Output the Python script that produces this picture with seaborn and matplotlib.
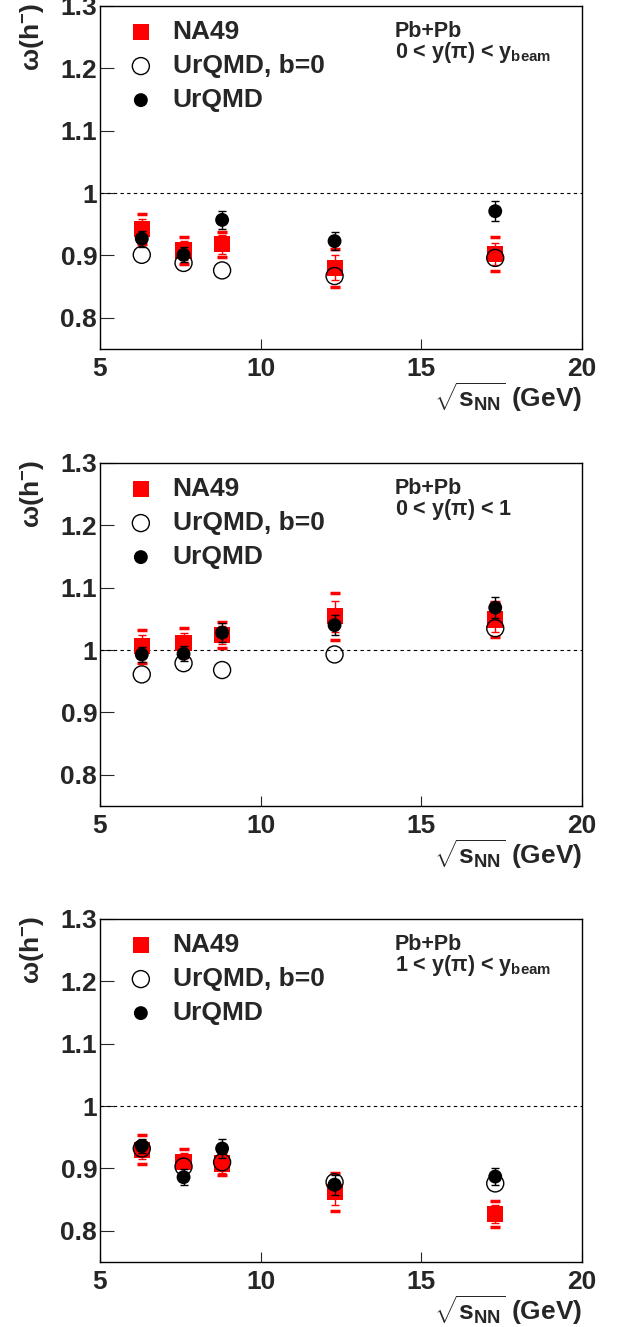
import numpy as np
import pandas as pd
import matplotlib
matplotlib.use("Agg")
import matplotlib.pyplot as plt
import seaborn as sns

# sqrt(s_NN) energies (GeV)
energies = [6.3, 7.6, 8.8, 12.3, 17.3]

# panel labels
rapidity_labels = [r"0 < y($\pi$) < y$_{beam}$", r"0 < y($\pi$) < 1", r"1 < y($\pi$) < y$_{beam}$"]

# NA49 data: value, statistical and systematic errors
na49_full = [0.943, 0.908, 0.918, 0.880, 0.902]
na49_full_stat = [0.015, 0.015, 0.015, 0.020, 0.018]
na49_full_sys = [0.024, 0.022, 0.020, 0.030, 0.027]

na49_mid = [1.006, 1.012, 1.024, 1.054, 1.049]
na49_mid_stat = [0.018, 0.015, 0.015, 0.025, 0.020]
na49_mid_sys = [0.026, 0.023, 0.021, 0.038, 0.028]

na49_fwd = [0.930, 0.910, 0.908, 0.862, 0.827]
na49_fwd_stat = [0.015, 0.015, 0.015, 0.020, 0.015]
na49_fwd_sys = [0.023, 0.021, 0.019, 0.030, 0.021]

# UrQMD
urqmd_full = [0.927, 0.901, 0.957, 0.923, 0.971]
urqmd_full_err = [0.013, 0.012, 0.015, 0.015, 0.016]
urqmd_mid = [0.993, 0.994, 1.028, 1.040, 1.068]
urqmd_mid_err = [0.012, 0.012, 0.015, 0.016, 0.017]
urqmd_fwd = [0.936, 0.886, 0.932, 0.874, 0.887]
urqmd_fwd_err = [0.012, 0.013, 0.015, 0.016, 0.014]

# UrQMD b=0
urqmd_b0_full = [0.901, 0.888, 0.876, 0.867, 0.896]
urqmd_b0_mid = [0.961, 0.979, 0.968, 0.993, 1.035]
urqmd_b0_fwd = [0.932, 0.903, 0.910, 0.878, 0.876]

panels = [
    (na49_full, na49_full_stat, na49_full_sys, urqmd_full, urqmd_full_err, urqmd_b0_full),
    (na49_mid, na49_mid_stat, na49_mid_sys, urqmd_mid, urqmd_mid_err, urqmd_b0_mid),
    (na49_fwd, na49_fwd_stat, na49_fwd_sys, urqmd_fwd, urqmd_fwd_err, urqmd_b0_fwd),
]

y_ticks = [0.8, 0.9, 1.0, 1.1, 1.2, 1.3]
y_tick_labels = ["0.8", "0.9", "1", "1.1", "1.2", "1.3"]
x_ticks = [5, 10, 15, 20]

sns.set_theme(style="ticks")
plt.rcParams['font.family'] = ['Liberation Sans', 'DejaVu Sans']
plt.rcParams['font.weight'] = 'bold'
plt.rcParams['mathtext.fontset'] = 'custom'
plt.rcParams['mathtext.rm'] = 'Liberation Sans:bold'
plt.rcParams['mathtext.it'] = 'Liberation Sans:bold'
plt.rcParams['mathtext.bf'] = 'Liberation Sans:bold'

fig = plt.figure(figsize=(6.18, 13.27), dpi=100)
W, H = 618, 1327
ax_left, ax_w, ax_h = 100 / W, 482 / W, 343 / H
bottoms = [1 - 349 / H, 1 - 806 / H, 1 - 1262 / H]

for i, (na, na_st, na_sy, uq, uq_e, b0) in enumerate(panels):
    ax = fig.add_axes([ax_left, bottoms[i], ax_w, ax_h])
    df = pd.DataFrame({"E": energies, "na49": na, "urqmd": uq, "b0": b0})

    ax.axhline(1.0, color="black", lw=0.8, ls=(0, (3, 3)), zorder=1)

    # NA49: systematic caps + statistical bars
    ax.errorbar(energies, na, yerr=na_sy, fmt="none", ecolor="red", elinewidth=0,
                capsize=3.5, capthick=2.5, zorder=2)
    ax.errorbar(energies, na, yerr=na_st, fmt="none", ecolor="red", elinewidth=1,
                capsize=3, capthick=1, zorder=2)
    sns.scatterplot(data=df, x="E", y="na49", marker="s", color="red", s=135,
                    edgecolor="none", label="NA49", ax=ax, zorder=3)
    # UrQMD b=0
    sns.scatterplot(data=df, x="E", y="b0", marker="o", facecolor="none",
                    edgecolor="black", linewidth=1, s=150, label="UrQMD, b=0", ax=ax, zorder=4)
    # UrQMD
    ax.errorbar(energies, uq, yerr=uq_e, fmt="none", ecolor="black", elinewidth=1,
                capsize=3, capthick=1, zorder=5)
    sns.scatterplot(data=df, x="E", y="urqmd", marker="o", color="black", s=100,
                    edgecolor="none", label="UrQMD", ax=ax, zorder=6)

    ax.set_xlim(5, 20)
    ax.set_ylim(0.75, 1.3)
    ax.set_xticks(x_ticks)
    ax.set_xticklabels([str(t) for t in x_ticks])
    ax.set_yticks(y_ticks)
    ax.set_yticklabels(y_tick_labels)
    ax.tick_params(axis="y", direction="in", length=10, width=0.8, pad=2, labelsize=19)
    ax.tick_params(axis="x", direction="in", length=7, width=0.8, pad=6, labelsize=19)
    for sp in ax.spines.values():
        sp.set_linewidth(1.0)
        sp.set_color("black")
    ax.set_xlabel("")
    ax.set_ylabel("")

    ax.legend(loc="upper left", bbox_to_anchor=(0.03, 0.99), frameon=False,
              fontsize=19, handletextpad=0.6, labelspacing=0.38,
              borderaxespad=0, handlelength=1.2)

    ax.text(0.612, 0.927, "Pb+Pb", transform=ax.transAxes, ha="left", va="center",
            fontsize=15.5, fontweight="bold")
    ax.text(0.612, 0.863, rapidity_labels[i], transform=ax.transAxes, ha="left",
            va="center", fontsize=15.5, fontweight="bold")

    ax.text(-0.141, 1.009, r"$\omega$(h$^{-}$)", transform=ax.transAxes, rotation=90,
            ha="center", va="top", fontsize=19, fontweight="bold")
    ax.text(1.0, -48 / 343, r"$\sqrt{s_{NN}}$ (GeV)", transform=ax.transAxes,
            ha="right", va="center", fontsize=19, fontweight="bold")

fig.savefig("out.png", dpi=100)
